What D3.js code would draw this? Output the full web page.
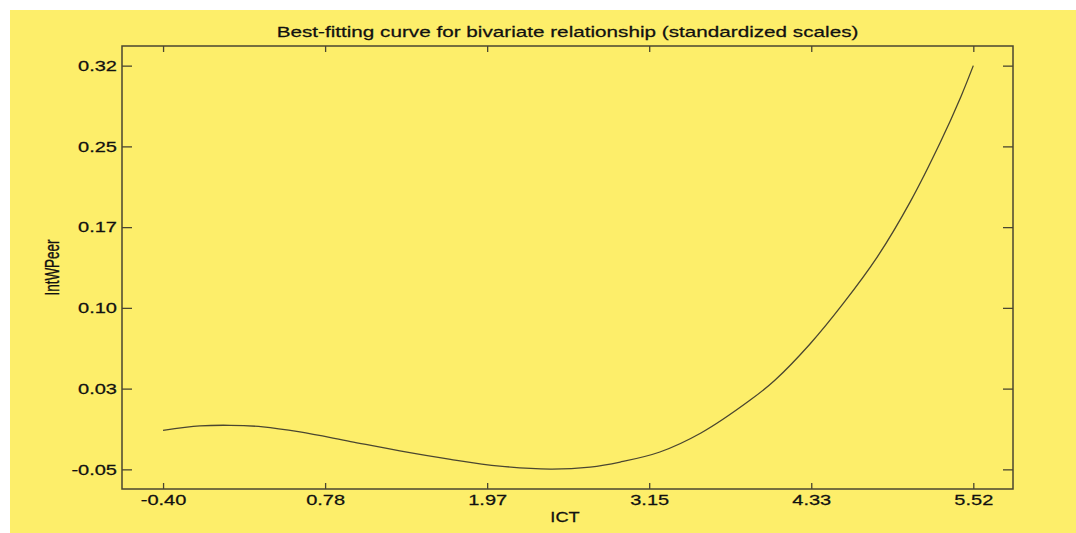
<!DOCTYPE html>
<html>
<head>
<meta charset="utf-8">
<script src="https://cdn.jsdelivr.net/npm/d3@7"></script>
<style>
  body { margin: 0; background: #fff; }
  text { font-family: "Liberation Sans", Arial, sans-serif; fill: #111; stroke: #111; stroke-width: 0.25px; }
</style>
</head>
<body>
<svg id="chart" width="1076" height="533"></svg>
<script>
// curve (ICT, IntWPeer)
var ict      = [-0.40, -0.13, 0.09, 0.33, 0.60, 0.97, 1.33, 1.70, 2.06, 2.43, 2.72, 2.94, 3.23, 3.53, 3.89, 4.07, 4.33, 4.57, 4.82, 5.06, 5.28, 5.43, 5.52];
var intwpeer = [-0.0142, -0.0102, -0.0096, -0.0110, -0.0157, -0.0245, -0.0330, -0.0408, -0.0470, -0.0497, -0.0479, -0.0433, -0.0341, -0.0167, 0.0135, 0.0317, 0.0654, 0.1021, 0.1450, 0.1954, 0.2500, 0.2918, 0.3200];

var x_ticks  = [-0.40, 0.784, 1.968, 3.152, 4.336, 5.52];
var x_labels = ["-0.40", "0.78", "1.97", "3.15", "4.33", "5.52"];
var y_ticks  = [-0.05, 0.024, 0.098, 0.172, 0.246, 0.32];
var y_labels = ["-0.05", "0.03", "0.10", "0.17", "0.25", "0.32"];

var title = "Best-fitting curve for bivariate relationship (standardized scales)";
var x_title = "ICT";
var y_title = "IntWPeer";

var svg = d3.select("#chart");
var left = 122, top_ = 46, right = 1013, bottom = 489;
var ink = "#4a4630";
var stretch = 1.38;   // the picture is wider than it is tall

svg.append("rect").attr("x", 10).attr("y", 10).attr("width", 1066).attr("height", 523).attr("fill", "#fdee6a");

var x = d3.scaleLinear().domain([-0.70, 5.81]).range([left, right]);
var y = d3.scaleLinear().domain([-0.068, 0.338]).range([bottom, top_]);

function style_axis(g){
  g.select(".domain").remove();
  g.selectAll("line").attr("stroke", ink).attr("stroke-width", 1.3);
  g.selectAll("text").attr("fill", "#111").style("font-size", "14.5px");
}

var xa = svg.append("g").attr("transform", "translate(0," + bottom + ")")
  .call(d3.axisBottom(x).tickValues(x_ticks).tickSize(-6).tickPadding(6)
    .tickFormat(function(d, i){ return x_labels[i]; }));
style_axis(xa);
xa.selectAll("text").attr("transform", "scale(" + stretch + ",1)");

svg.append("g").attr("transform", "translate(0," + top_ + ")")
  .call(d3.axisTop(x).tickValues(x_ticks).tickSize(-6).tickFormat(""))
  .call(style_axis);

var ya = svg.append("g").attr("transform", "translate(" + left + ",0)")
  .call(d3.axisLeft(y).tickValues(y_ticks).tickSize(-10)
    .tickFormat(function(d, i){ return y_labels[i]; }));
style_axis(ya);
ya.selectAll("text").attr("x", 0).attr("transform", "translate(-5,0) scale(" + stretch + ",1)");

svg.append("g").attr("transform", "translate(" + right + ",0)")
  .call(d3.axisRight(y).tickValues(y_ticks).tickSize(-10).tickFormat(""))
  .call(style_axis);

svg.append("rect").attr("x", left).attr("y", top_).attr("width", right - left).attr("height", bottom - top_)
  .attr("fill", "none").attr("stroke", ink).attr("stroke-width", 1.5);

var pts = ict.map(function(d, i){ return [d, intwpeer[i]]; });
var line = d3.line().x(function(d){ return x(d[0]); }).y(function(d){ return y(d[1]); })
  .curve(d3.curveCatmullRom.alpha(0.5));
svg.append("path").attr("d", line(pts)).attr("fill", "none").attr("stroke", ink).attr("stroke-width", 1.3);

svg.append("text").attr("transform", "translate(" + ((left + right) / 2) + ",37) scale(" + stretch + ",1)")
  .attr("text-anchor", "middle").style("font-size", "15px").text(title);

svg.append("text").attr("transform", "translate(565,522) scale(1.3,1)")
  .attr("text-anchor", "middle").style("font-size", "14px").text(x_title);

svg.append("text").attr("transform", "translate(59," + ((top_ + bottom) / 2) + ") scale(1.45,1) rotate(-90)")
  .attr("text-anchor", "middle").style("font-size", "13.5px").text(y_title);
</script>
</body>
</html>
